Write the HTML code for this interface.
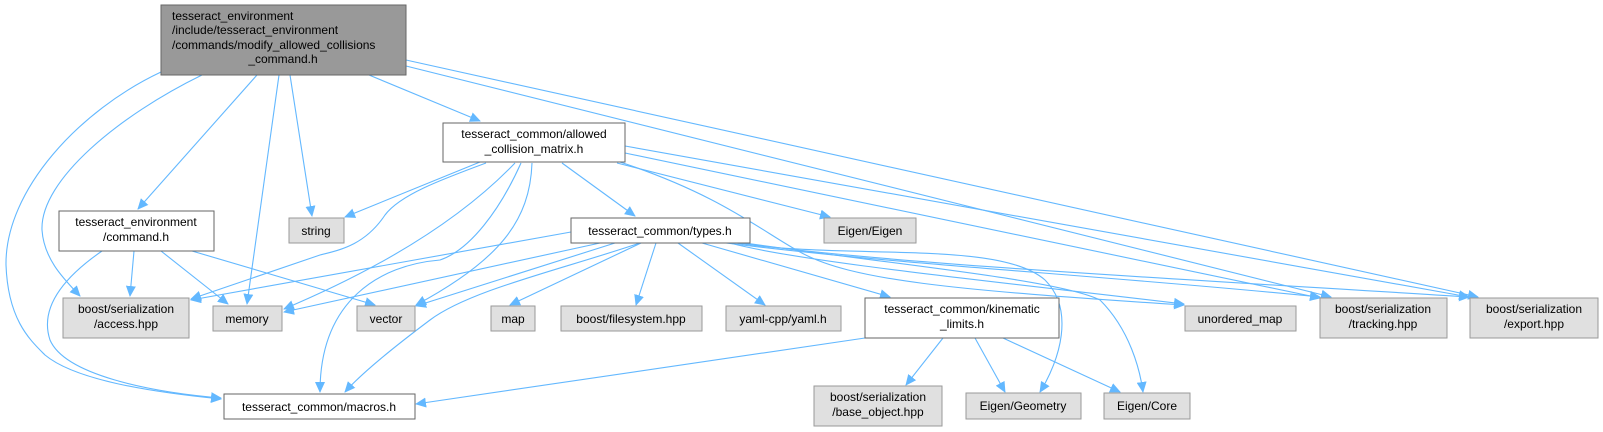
<!DOCTYPE html>
<html><head><meta charset="utf-8"><style>
html,body{margin:0;padding:0;background:#fff;}
svg{display:block;}
text{font-family:"Liberation Sans",Arial,sans-serif;font-size:12px;fill:#000;}
</style></head><body>
<svg width="1603" height="432" viewBox="0 0 1603 432" xmlns="http://www.w3.org/2000/svg">
<defs>
<marker id="a" markerWidth="11" markerHeight="10" refX="10" refY="5" orient="auto" markerUnits="userSpaceOnUse">
<path d="M0,0 L11,5 L0,10 z" fill="#63b8ff"/>
</marker>
</defs>
<g fill="none" stroke="#63b8ff" stroke-width="1.1" marker-end="url(#a)">
<!-- main -->
<path d="M257,75 L138,209"/>
<path d="M279,75 L247,304"/>
<path d="M290,75 L312,216"/>
<path d="M369,75 L480,121"/>
<path d="M202,75 C120,115 40,180 42,230 C44,260 65,280 80,296"/>
<path d="M161,72 C80,110 5,190 6,265 C8,320 30,340 45,355 C75,380 150,392 221,399"/>
<path d="M406,66 L1331,297"/>
<path d="M406,60 L1478,297"/>
<!-- command.h -->
<path d="M134,251 L130,296"/>
<path d="M161,251 L228,304"/>
<path d="M192,251 L375,305"/>
<path d="M102,251 C60,280 40,310 50,340 C65,375 150,392 221,398"/>
<!-- allowed -->
<path d="M480,162 L345,217"/>
<path d="M486,163 C440,180 400,195 385,215 C365,245 340,250 320,255 L191,299"/>
<path d="M515,163 C470,210 400,260 284,309"/>
<path d="M521,163 C500,210 470,250 440,260 C380,265 320,300 320,392"/>
<path d="M532,163 C530,220 500,260 416,305"/>
<path d="M562,163 L635,216"/>
<path d="M617,163 L830,217"/>
<path d="M625,153 L1320,298"/>
<path d="M625,146 L1469,297"/>
<path d="M620,162 C720,195 760,230 800,252 C850,280 950,290 1184,305"/>
<!-- types -->
<path d="M571,232 L191,300"/>
<path d="M600,243 L284,312"/>
<path d="M615,243 L416,306"/>
<path d="M640,243 C560,270 470,290 430,320 C390,350 360,375 345,392"/>
<path d="M641,243 L510,305"/>
<path d="M656,243 L636,305"/>
<path d="M678,243 L765,305"/>
<path d="M702,243 L890,297"/>
<path d="M730,243 C800,262 1000,282 1184,304"/>
<path d="M726,243 C900,265 1100,275 1320,297"/>
<path d="M740,243 C900,265 1200,280 1469,297"/>
<path d="M735,243 C850,260 1000,240 1045,280 C1075,310 1060,360 1040,392"/>
<path d="M745,243 C900,265 1060,280 1100,300 C1130,330 1140,370 1143,392"/>
<!-- kinematic -->
<path d="M865,338 L416,404"/>
<path d="M943,338 L906,385"/>
<path d="M975,338 L1005,392"/>
<path d="M1003,338 L1120,392"/>
</g>
<!-- nodes -->
<g stroke-width="1">
<rect x="161" y="5" width="245" height="70" fill="#999999" stroke="#666666"/>
<rect x="443" y="123" width="182" height="39" fill="#fff" stroke="#666666"/>
<rect x="59" y="211" width="155" height="40" fill="#fff" stroke="#666666"/>
<rect x="571" y="218" width="179" height="25" fill="#fff" stroke="#666666"/>
<rect x="865" y="298" width="194" height="40" fill="#fff" stroke="#666666"/>
<rect x="224" y="394" width="191" height="25" fill="#fff" stroke="#666666"/>
<g fill="#e0e0e0" stroke="#999999">
<rect x="289" y="218" width="55" height="25"/>
<rect x="824" y="218" width="92" height="25"/>
<rect x="63" y="298" width="126" height="40"/>
<rect x="213" y="306" width="69" height="25"/>
<rect x="357" y="306" width="58" height="25"/>
<rect x="491" y="306" width="44" height="25"/>
<rect x="561" y="306" width="141" height="25"/>
<rect x="726" y="306" width="115" height="25"/>
<rect x="1185" y="306" width="111" height="25"/>
<rect x="1320" y="298" width="127" height="40"/>
<rect x="1470" y="298" width="128" height="40"/>
<rect x="814" y="386" width="128" height="40"/>
<rect x="966" y="393" width="115" height="26"/>
<rect x="1104" y="393" width="86" height="26"/>
</g>
</g>
<text x="172" y="20">tesseract_environment</text>
<text x="172" y="34">/include/tesseract_environment</text>
<text x="172" y="49">/commands/modify_allowed_collisions</text>
<text x="283" y="63" text-anchor="middle">_command.h</text>
<g text-anchor="middle">
<text x="534" y="138">tesseract_common/allowed</text>
<text x="534" y="153">_collision_matrix.h</text>
<text x="136" y="226">tesseract_environment</text>
<text x="136" y="241">/command.h</text>
<text x="660" y="235">tesseract_common/types.h</text>
<text x="962" y="313">tesseract_common/kinematic</text>
<text x="962" y="328">_limits.h</text>
<text x="319" y="411">tesseract_common/macros.h</text>
<text x="316" y="235">string</text>
<text x="870" y="235">Eigen/Eigen</text>
<text x="126" y="313">boost/serialization</text>
<text x="126" y="328">/access.hpp</text>
<text x="247" y="323">memory</text>
<text x="386" y="323">vector</text>
<text x="513" y="323">map</text>
<text x="631" y="323">boost/filesystem.hpp</text>
<text x="783" y="323">yaml-cpp/yaml.h</text>
<text x="1240" y="323">unordered_map</text>
<text x="1383" y="313">boost/serialization</text>
<text x="1383" y="328">/tracking.hpp</text>
<text x="1534" y="313">boost/serialization</text>
<text x="1534" y="328">/export.hpp</text>
<text x="878" y="401">boost/serialization</text>
<text x="878" y="416">/base_object.hpp</text>
<text x="1023" y="410">Eigen/Geometry</text>
<text x="1147" y="410">Eigen/Core</text>
</g>
</svg>
</body></html>
